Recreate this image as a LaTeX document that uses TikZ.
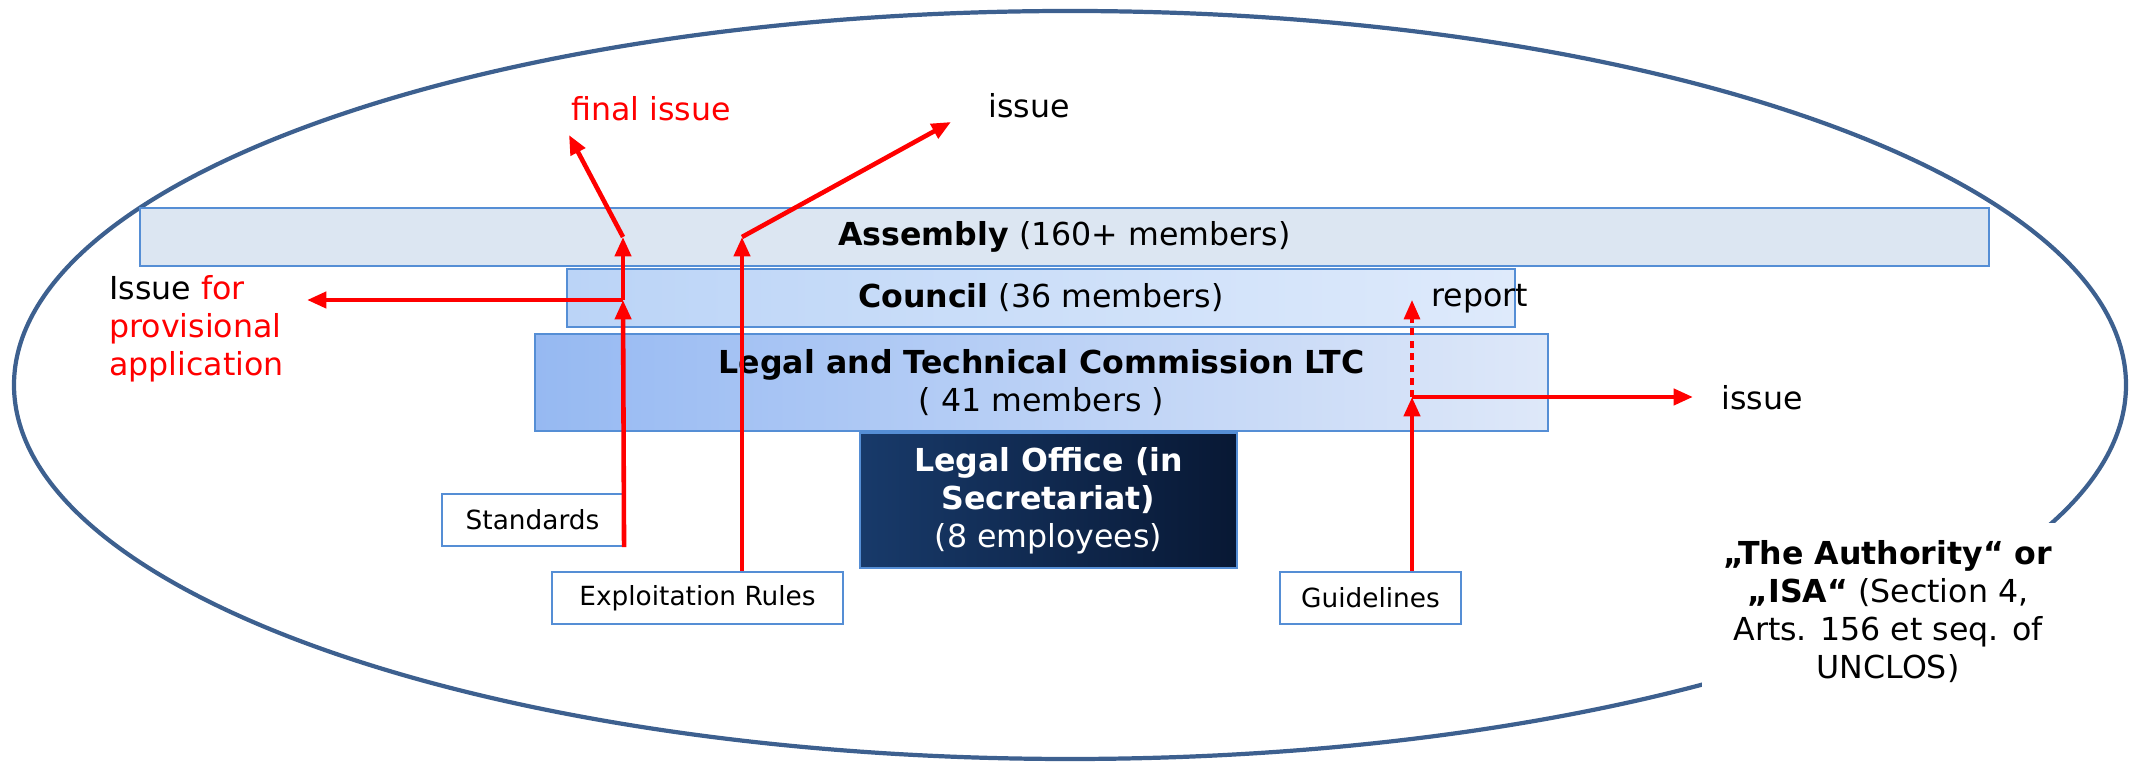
\documentclass[tikz,border=0pt]{standalone}
\usepackage{fontspec}
\setmainfont{DejaVu Sans}
\usetikzlibrary{arrows.meta}

\definecolor{ringblue}{RGB}{61,96,143}
\definecolor{edgeblue}{RGB}{85,142,213}
\definecolor{asmfill}{RGB}{220,230,242}
\definecolor{cnlleft}{RGB}{187,212,247}
\definecolor{cnlright}{RGB}{222,234,251}
\definecolor{ltcleft}{RGB}{150,185,242}
\definecolor{ltcright}{RGB}{222,232,249}
\definecolor{lofleft}{RGB}{24,58,106}
\definecolor{lofright}{RGB}{8,24,52}

\begin{document}
\begin{tikzpicture}[
  orgbox/.style={draw=edgeblue, line width=1.2pt, minimum height=1.16cm, align=center, inner sep=0pt, font=\fontsize{18}{21.6}\selectfont},
  docbox/.style={draw=edgeblue, fill=white, line width=1.2pt, minimum width=3.62cm, minimum height=1.04cm, font=\fontsize{15}{18}\selectfont},
  redarrow/.style={red, line width=2.6pt, -{Triangle[length=11pt,width=9pt]}},
  lbl/.style={anchor=west, inner sep=0pt, font=\fontsize{18}{21.6}\selectfont}
]
\useasboundingbox (0,0) rectangle (42.66,15.28);

% the authority
\draw[ringblue, line width=2.4pt] (21.4,7.58) ellipse (21.12cm and 7.48cm);

% organs
\node[orgbox, fill=asmfill, minimum width=36.98cm] (asm) at (21.29,10.54) {\textbf{Assembly} (160+ members)};
\node[orgbox, left color=cnlleft, right color=cnlright, minimum width=18.96cm] (cnl) at (20.82,9.32) {\textbf{Council} (36 members)};
\node[orgbox, left color=ltcleft, right color=ltcright, minimum width=20.26cm, minimum height=1.94cm] (ltc) at (20.83,7.63) {\textbf{Legal and Technical Commission LTC}\\( 41 members )};
\node[orgbox, left color=lofleft, right color=lofright, text=white, minimum width=7.54cm, minimum height=2.7cm] (lof) at (20.97,5.27) {\textbf{Legal Office (in}\\\textbf{Secretariat)}\\(8 employees)};

% documents
\node[docbox] (std) at (10.65,4.88) {Standards};
\node[docbox, minimum width=5.82cm] (expl) at (13.95,3.32) {Exploitation Rules};
\node[docbox] (guide) at (27.41,3.32) {Guidelines};

% junctions and free ends
\coordinate (cj) at (12.46,9.28);
\coordinate (aj) at (12.46,10.54);
\coordinate (fintip) at (11.38,12.58);
\coordinate (provtip) at (6.14,9.28);
\coordinate (ej) at (14.84,10.54);
\coordinate (issuetip) at (19.02,12.84);
\coordinate (gj) at (28.24,7.34);
\coordinate (rissuetip) at (33.86,7.34);
\coordinate (reptip) at (28.24,9.28);

% procedure
\draw[redarrow] (std.south east) -- (cj);
\draw[redarrow] (cj) -- (aj);
\draw[redarrow] (aj) -- (fintip);
\draw[redarrow] (cj) -- (provtip);

\draw[redarrow] (expl.north -| ej) -- (ej);
\draw[redarrow] (ej) -- (issuetip);

\draw[redarrow] (guide.north -| gj) -- (gj);
\draw[redarrow] (gj) -- (rissuetip);
\draw[redarrow, line width=2pt, dash pattern=on 4pt off 3pt] (gj) -- (reptip);

% labels
\node[lbl, text=red] (fin) at (11.42,13.1) {final issue};
\node[lbl] (iss1) at (19.76,13.16) {issue};
\node[lbl, align=left] (prov) at (2.18,8.7) {Issue \textcolor{red}{for}\\\textcolor{red}{provisional}\\\textcolor{red}{application}};
\node[lbl] (rep) at (28.62,9.3) {report};
\node[lbl] (iss2) at (34.42,7.32) {issue};

\node[fill=white, minimum width=7.44cm, minimum height=3.56cm, align=center, font=\fontsize{18}{21.6}\selectfont] (isa) at (37.76,3.04) {\textbf{„The Authority“ or}\\\textbf{„ISA“} (Section 4,\\Arts. 156 et seq. of\\UNCLOS)};
\end{tikzpicture}
\end{document}
